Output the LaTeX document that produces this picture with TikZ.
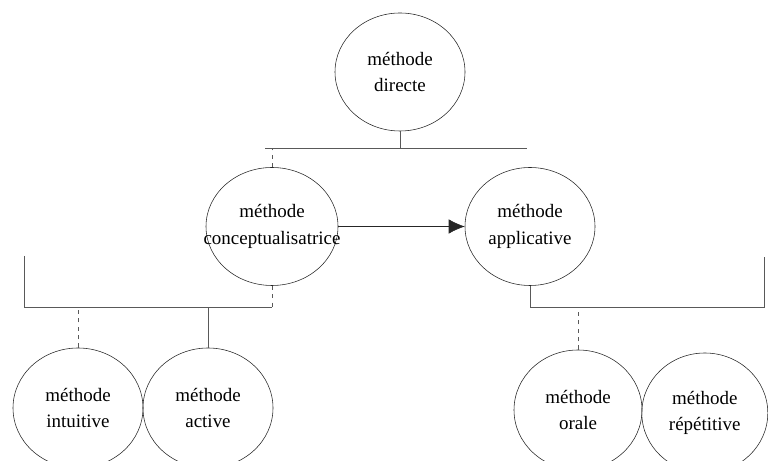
\documentclass[tikz,border=0pt]{standalone}
\usepackage{fontspec}
\setmainfont{Liberation Serif}
\usetikzlibrary{shapes.geometric,arrows.meta}

\begin{document}
\begin{tikzpicture}[meth/.style={ellipse, draw=black!85, thin, minimum width=3.25cm, minimum height=2.95cm, inner sep=0pt, align=center, font=\fontsize{13.5}{19}\selectfont},
		link/.style={draw=black!65, thin}]
		\useasboundingbox (0,0) rectangle (19.2,11.525);
		\clip (0,0) rectangle (19.2,11.525);

		\node[meth] (directe) at (10,9.725) {méthode\\directe};
		\node[meth, minimum width=3.3cm] (concept) at (6.8,5.8625) {méthode\\\makebox[0pt]{conceptualisatrice}};
		\node[meth] (applic) at (13.25,5.8625) {méthode\\applicative};
		\node[meth, minimum height=3cm] (intuitive) at (1.95,1.325) {méthode\\intuitive};
		\node[meth, minimum height=3cm] (active) at (5.2,1.325) {méthode\\active};
		\node[meth, minimum width=3.2cm, minimum height=3cm] (orale) at (14.45,1.275) {méthode\\orale};
		\node[meth, minimum width=3.15cm, minimum height=3cm] (repetitive) at (17.62,1.2) {méthode\\répétitive};

		\coordinate (barL) at (6.625,7.825);
		\coordinate (barR) at (13.175,7.825);
		\coordinate (lowL) at (0.6,5.125);
		\coordinate (lowbarL) at (6.8,3.85);
		\coordinate (lowR) at (19.1,5.1);
		\coordinate (lowbarR) at (19.1,3.85);

		\draw[link] (directe.south) -- (directe.south |- barL);
		\draw[link] (barL) -- (barR);
		\draw[link, dashed] (concept.north) -- (concept.north |- barL);
		\draw[link, draw=black!85, -{Latex[length=4mm,width=3.6mm]}] (concept) -- (applic);

		\draw[link] (lowL) |- (lowbarL);
		\draw[link, dashed] (concept.south) -- (lowbarL);
		\draw[link, dashed] (intuitive.north) -- (intuitive.north |- lowbarL);
		\draw[link] (active.north) -- (active.north |- lowbarL);

		\draw[link] (applic.south) |- (lowbarR) -- (lowR);
		\draw[link, dashed] (orale.north) -- (orale.north |- lowbarR);
	\end{tikzpicture}
\end{document}
